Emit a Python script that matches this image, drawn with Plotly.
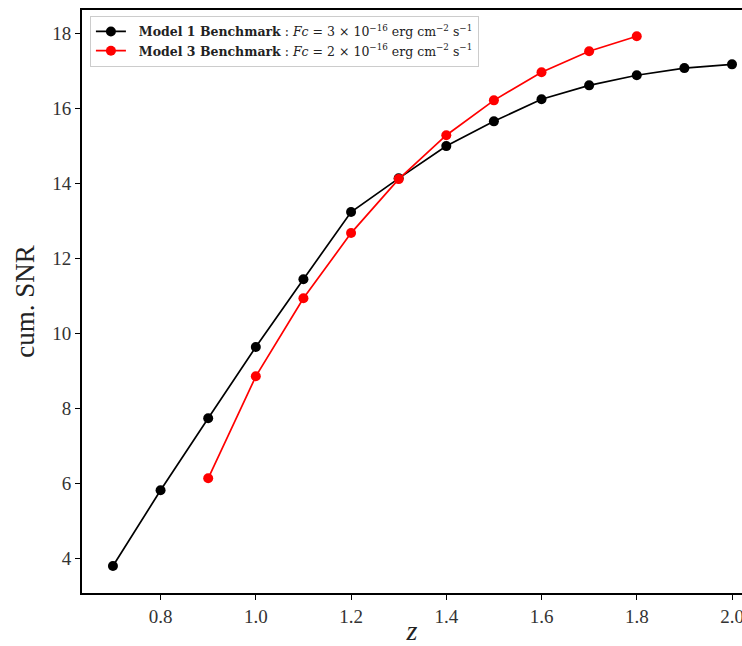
import plotly.graph_objects as go

z1 = [0.7, 0.8, 0.9, 1.0, 1.1, 1.2, 1.3, 1.4, 1.5, 1.6, 1.7, 1.8, 1.9, 2.0]
snr1 = [3.79, 5.81, 7.73, 9.63, 11.44, 13.23, 14.13, 14.99, 15.65, 16.24, 16.61, 16.88, 17.07, 17.17]
z3 = [0.9, 1.0, 1.1, 1.2, 1.3, 1.4, 1.5, 1.6, 1.7, 1.8]
snr3 = [6.13, 8.85, 10.93, 12.67, 14.11, 15.28, 16.21, 16.96, 17.52, 17.92]
xticks = [0.8, 1.0, 1.2, 1.4, 1.6, 1.8, 2.0]
xticklabels = ["0.8", "1.0", "1.2", "1.4", "1.6", "1.8", "2.0"]
yticks = [4, 6, 8, 10, 12, 14, 16, 18]

name1 = "  <b>Model 1 Benchmark</b> : <i>Fc</i> = 3 × 10<sup>−16</sup> erg cm<sup>−2</sup> s<sup>−1</sup>"
name3 = "  <b>Model 3 Benchmark</b> : <i>Fc</i> = 2 × 10<sup>−16</sup> erg cm<sup>−2</sup> s<sup>−1</sup>"

fig = go.Figure()
fig.add_trace(go.Scatter(x=z1, y=snr1, mode="lines+markers", name=name1,
                         line=dict(color="black", width=1.7),
                         marker=dict(color="black", size=10)))
fig.add_trace(go.Scatter(x=z3, y=snr3, mode="lines+markers", name=name3,
                         line=dict(color="#ff0000", width=1.7),
                         marker=dict(color="#ff0000", size=10)))

serif = "Liberation Serif, DejaVu Serif, serif"
fig.update_layout(
    width=742, height=646,
    margin=dict(l=82, r=0, t=10, b=53),
    plot_bgcolor="white", paper_bgcolor="white",
    font=dict(family=serif, color="#222"),
    showlegend=True,
    legend=dict(x=0.012, y=0.99, xanchor="left", yanchor="top",
                bgcolor="rgba(255,255,255,0.9)", bordercolor="#cccccc", borderwidth=1,
                font=dict(family="DejaVu Serif, serif", size=12.5, color="#222"),
                tracegroupgap=0, itemwidth=30),
    xaxis=dict(range=[0.635, 2.021], tickvals=xticks, ticktext=xticklabels,
               showline=True, linecolor="black", linewidth=1.7, mirror=True,
               ticks="outside", ticklen=5, tickcolor="black", tickwidth=1.2,
               showgrid=False, zeroline=False, automargin=False,
               ticklabeloverflow="allow",
               tickfont=dict(size=19, family=serif, color="#333"),
               title=dict(text="<i>z</i>", font=dict(size=28, family=serif, color="#222"), standoff=2)),
    yaxis=dict(range=[3.07, 18.62], tickvals=yticks,
               showline=True, linecolor="black", linewidth=1.7, mirror=False,
               ticks="outside", ticklen=5, tickcolor="black", tickwidth=1.2,
               showgrid=False, zeroline=False, automargin=False,
               tickfont=dict(size=19, family=serif, color="#333"),
               title=dict(text="cum. SNR", font=dict(size=27, family=serif, color="#222"), standoff=10)),
)
fig.write_html("out.html", config={"displayModeBar": False},
               post_script="document.body.style.margin='0';document.body.style.overflow='hidden';")
